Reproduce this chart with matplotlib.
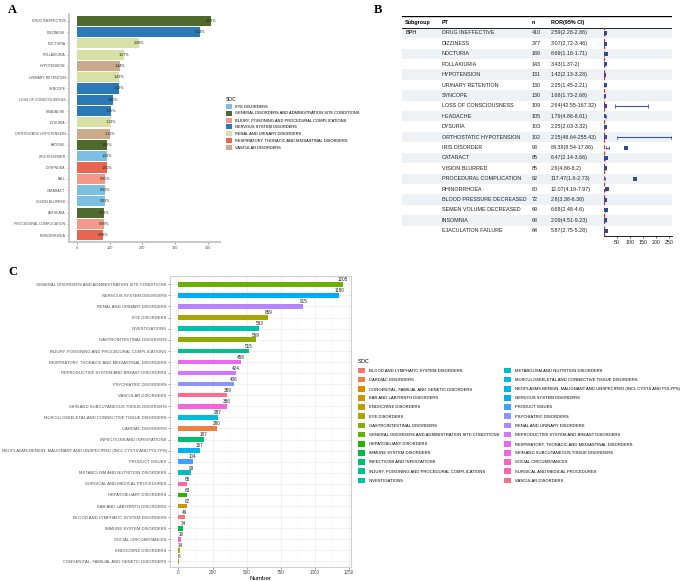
import numpy as np
import matplotlib
matplotlib.use("Agg")
import matplotlib.pyplot as plt
from matplotlib.patches import Patch

plt.rcParams['font.family'] = ['Liberation Sans', 'DejaVu Sans']

# ---------------- panel A data ----------------
a_pt = ["DRUG INEFFECTIVE", "DIZZINESS", "NOCTURIA", "POLLAKIURIA", "HYPOTENSION",
        "URINARY RETENTION", "SYNCOPE", "LOSS OF CONSCIOUSNESS", "HEADACHE", "DYSURIA",
        "ORTHOSTATIC HYPOTENSION", "FATIGUE", "IRIS DISORDER", "DYSPNOEA", "FALL",
        "CATARACT", "VISION BLURRED", "ASTHENIA", "PROCEDURAL COMPLICATION", "RHINORRHOEA"]
a_n = [410, 377, 189, 143, 131, 130, 130, 109, 105, 103, 102, 93, 93, 91, 86, 85, 85, 83, 82, 80]
a_pct = ["4.51%", "4.14%", "2.08%", "1.57%", "1.44%", "1.43%", "1.43%", "1.20%", "1.15%", "1.13%",
         "1.12%", "1.02%", "1.02%", "1.00%", "0.95%", "0.93%", "0.93%", "0.91%", "0.90%", "0.88%"]
a_soc = ["GEN", "NERV", "REN", "REN", "VASC", "REN", "NERV", "NERV", "NERV", "REN",
         "VASC", "GEN", "EYE", "RESP", "INJ", "EYE", "EYE", "GEN", "INJ", "RESP"]
a_soc_names = {"EYE": "EYE DISORDERS",
               "GEN": "GENERAL DISORDERS AND ADMINISTRATION SITE CONDITIONS",
               "INJ": "INJURY, POISONING AND PROCEDURAL COMPLICATIONS",
               "NERV": "NERVOUS SYSTEM DISORDERS",
               "REN": "RENAL AND URINARY DISORDERS",
               "RESP": "RESPIRATORY, THORACIC AND MEDIASTINAL DISORDERS",
               "VASC": "VASCULAR DISORDERS"}
a_cols = {"EYE": "#7dbfe0", "GEN": "#4f6a2c", "INJ": "#f59a8b", "NERV": "#2b79b6",
          "REN": "#d7e1a6", "RESP": "#e8664f", "VASC": "#c9aa8b"}

# ---------------- panel B data ----------------
b_pt = ["DRUG INEFFECTIVE", "DIZZINESS", "NOCTURIA", "POLLAKIURIA", "HYPOTENSION",
        "URINARY RETENTION", "SYNCOPE", "LOSS OF CONSCIOUSNESS", "HEADACHE", "DYSURIA",
        "ORTHOSTATIC HYPOTENSION", "IRIS DISORDER", "CATARACT", "VISION BLURRED",
        "PROCEDURAL COMPLICATION", "RHINORRHOEA", "BLOOD PRESSURE DECREASED",
        "SEMEN VOLUME DECREASED", "INSOMNIA", "EJACULATION FAILURE"]
b_n = [410, 377, 189, 143, 131, 130, 130, 109, 105, 103, 102, 93, 85, 85, 82, 80, 72, 69, 68, 64]
b_ror = [2.59, 3.07, 8.69, 3.43, 1.42, 2.25, 1.68, 2.64, 1.79, 2.25,
         2.15, 84.38, 6.47, 2.6, 117.47, 12.07, 2.8, 6.68, 2.09, 5.87]
b_lo = [2.28, 2.72, 1.18, 1.37, 2.13, 1.45, 1.73, 42.55, 4.86, 2.03,
        48.64, 8.54, 2.14, 4.86, 1.6, 4.19, 3.38, 2.48, 4.51, 2.75]
b_hi = [2.86, 3.46, 1.71, 2, 3.28, 2.21, 2.68, 167.32, 8.61, 3.32,
        255.43, 17.86, 3.66, 8.2, 2.73, 7.97, 6.38, 4.6, 9.23, 5.28]
b_ticks = [50, 100, 150, 200, 250]

# ---------------- panel C data ----------------
c_soc = ["GENERAL DISORDERS AND ADMINISTRATION SITE CONDITIONS", "NERVOUS SYSTEM DISORDERS",
         "RENAL AND URINARY DISORDERS", "EYE DISORDERS", "INVESTIGATIONS",
         "GASTROINTESTINAL DISORDERS", "INJURY, POISONING AND PROCEDURAL COMPLICATIONS",
         "RESPIRATORY, THORACIC AND MEDIASTINAL DISORDERS", "REPRODUCTIVE SYSTEM AND BREAST DISORDERS",
         "PSYCHIATRIC DISORDERS", "VASCULAR DISORDERS", "SKIN AND SUBCUTANEOUS TISSUE DISORDERS",
         "MUSCULOSKELETAL AND CONNECTIVE TISSUE DISORDERS", "CARDIAC DISORDERS",
         "INFECTIONS AND INFESTATIONS",
         "NEOPLASMS BENIGN, MALIGNANT AND UNSPECIFIED (INCL CYSTS AND POLYPS)",
         "PRODUCT ISSUES", "METABOLISM AND NUTRITION DISORDERS", "SURGICAL AND MEDICAL PROCEDURES",
         "HEPATOBILIARY DISORDERS", "EAR AND LABYRINTH DISORDERS",
         "BLOOD AND LYMPHATIC SYSTEM DISORDERS", "IMMUNE SYSTEM DISORDERS",
         "SOCIAL CIRCUMSTANCES", "ENDOCRINE DISORDERS", "CONGENITAL, FAMILIAL AND GENETIC DISORDERS"]
c_n = [1205, 1180, 915, 659, 593, 569, 515, 458, 424, 406, 359, 356, 287, 280,
       187, 157, 104, 93, 65, 63, 62, 46, 34, 19, 14, 6]
c_ticks = [0, 250, 500, 750, 1000, 1250]


def hue_pal(n, l=65, c=100):
    # ggplot2 default discrete palette (hcl)
    h = np.radians(np.linspace(15, 375, n + 1)[:-1])
    Xn, Yn, Zn = 95.047, 100.0, 108.883
    Y = Yn * ((l + 16) / 116) ** 3
    den = Xn + 15 * Yn + 3 * Zn
    u = c * np.cos(h) / (13 * l) + 4 * Xn / den
    v = c * np.sin(h) / (13 * l) + 9 * Yn / den
    X = 9 * Y * u / (4 * v)
    Z = -X / 3 - 5 * Y + 3 * Y / v
    X, Y, Z = X / 100, Y / 100, Z / 100
    R = 3.240479 * X - 1.537150 * Y - 0.498535 * Z
    G = -0.969256 * X + 1.875992 * Y + 0.041556 * Z
    B = 0.055648 * X - 0.204043 * Y + 1.057311 * Z
    out = []
    for rgb in zip(R, G, B):
        cc = []
        for t in rgb:
            t = 1.055 * t ** (1 / 2.4) - 0.055 if t > 0.00304 else 12.92 * t
            cc.append(min(max(t, 0), 1))
        out.append(tuple(cc))
    return out


W, H = 685, 581
fig = plt.figure(figsize=(W / 100, H / 100), dpi=100)


def rect(l, t, r, b):
    return [l / W, 1 - b / H, (r - l) / W, (b - t) / H]


grey = "#4d4d4d"

# ================= A =================
ax = fig.add_axes(rect(69, 14, 220, 242))
ya = np.arange(len(a_pt))
ax.barh(ya, a_n, height=0.9, color=[a_cols[s] for s in a_soc])
for i in range(len(a_pt)):
    ax.text(a_n[i], i, a_pct[i], ha="center", va="center", fontsize=2.7, color="#222222")
ax.set_yticks(ya)
ax.set_yticklabels(a_pt, fontsize=2.55, color=grey)
ax.set_ylim(len(a_pt) - 0.4, -0.6)
ax.set_xlim(-24, 437)
ax.set_xticks([0, 100, 200, 300, 400])
ax.tick_params(axis="x", labelsize=2.7, colors=grey, length=1.5, width=0.4, pad=1.5)
ax.tick_params(axis="y", length=1.5, width=0.4, pad=1, colors=grey)
for s in ["top", "right"]:
    ax.spines[s].set_visible(False)
for s in ["left", "bottom"]:
    ax.spines[s].set_color("#c8c8c8")
    ax.spines[s].set_linewidth(1.4)
fig.text(8 / W, 1 - 10 / H, "A", fontsize=9, fontweight="bold", family="Liberation Serif", va="center")

handles = [Patch(facecolor=a_cols[k], edgecolor="none", label=a_soc_names[k]) for k in a_cols]
fig.legend(handles=handles, loc="upper left", bbox_to_anchor=(226 / W, 1 - 97 / H),
           frameon=False, fontsize=2.85, title="SOC", title_fontsize=3.6,
           handlelength=1.6, handleheight=1.6, labelspacing=0.45, handletextpad=0.6,
           borderpad=0, borderaxespad=0, alignment="left")

# ================= B =================
nb = len(b_pt)
tb = fig.add_axes(rect(402, 16, 672, 236))
tb.set_xlim(402, 672)
tb.set_ylim(nb - 0.5, -1.63)
tb.axis("off")
for i in range(0, nb, 2):
    tb.axhspan(i - 0.5, i + 0.5, color="#eef2f5", lw=0)
tb.axhline(-1.63, color="black", lw=1.0)
tb.axhline(-0.5, color="black", lw=0.6)
fs_b = 3.9
colx = [405, 442, 532, 551]
for x, lab in zip(colx, ["Subgroup", "PT", "n", "ROR(95% CI)"]):
    tb.text(x, -1.0, lab, fontsize=fs_b, fontweight="bold", va="center")
tb.text(colx[0], 0, "BPH", fontsize=fs_b, va="center")
for i in range(nb):
    tb.text(colx[1], i, b_pt[i], fontsize=fs_b, va="center", color="#222222")
    tb.text(colx[2], i, str(b_n[i]), fontsize=fs_b, va="center", color="#222222")
    tb.text(colx[3], i, f"{b_ror[i]:g}({b_lo[i]:g}-{b_hi[i]:g})", fontsize=fs_b,
            va="center", color="#222222")

fb = fig.add_axes(rect(604, 28, 672, 236))
fb.patch.set_alpha(0)
yb = np.arange(nb)
fb.axvline(1, color="#e8261f", lw=0.9, ls=(0, (3, 2)))
fb.hlines(yb, b_lo, b_hi, color="#3a56a5", lw=0.8)
fb.vlines(b_lo, yb - 0.15, yb + 0.15, color="#3a56a5", lw=0.6)
fb.vlines(b_hi, yb - 0.15, yb + 0.15, color="#3a56a5", lw=0.6)
fb.plot(b_ror, yb, "s", color="#2f4b9c", ms=3.2, mew=0)
fb.set_xlim(0, 261)
fb.set_ylim(nb - 0.5, -0.5)
fb.set_yticks([])
fb.set_xticks(b_ticks)
fb.tick_params(axis="x", labelsize=3.8, length=1.5, width=0.5, pad=1.5, colors="#222222")
for s in ["top", "right", "left"]:
    fb.spines[s].set_visible(False)
fb.spines["bottom"].set_linewidth(0.6)
fig.text(374 / W, 1 - 10 / H, "B", fontsize=9, fontweight="bold", family="Liberation Serif", va="center")

# ================= C =================
all_soc = sorted(c_soc)
pal = dict(zip(all_soc, hue_pal(len(all_soc))))
axc = fig.add_axes(rect(170, 276, 351, 567))
yc = np.arange(len(c_soc))
axc.set_axisbelow(True)
axc.barh(yc, c_n, height=0.42, color=[pal[s] for s in c_soc])
for i in range(len(c_soc)):
    axc.text(c_n[i], i - 0.2, str(c_n[i]), ha="center", va="bottom", fontsize=3.3, color="#222222")
axc.set_yticks(yc)
axc.set_yticklabels(c_soc, fontsize=3.0, color=grey)
axc.set_ylim(len(c_soc) - 0.5, -0.75)
axc.set_xlim(-62, 1265)
axc.set_xticks(c_ticks)
axc.set_xticks([125, 375, 625, 875, 1125], minor=True)
axc.grid(True, which="major", color="#ebebeb", lw=0.5)
axc.grid(True, which="minor", axis="x", color="#f3f3f3", lw=0.3)
axc.tick_params(axis="x", which="major", labelsize=3.3, colors=grey, length=1.5, width=0.4, pad=1)
axc.tick_params(axis="x", which="minor", length=0)
axc.tick_params(axis="y", length=1.5, width=0.4, pad=1, colors=grey)
for s in axc.spines.values():
    s.set_color("#d0d0d0")
    s.set_linewidth(0.8)
axc.set_xlabel("Number", fontsize=4.5, labelpad=0.5)
fig.text(8 / W, 1 - 272 / H, "C", fontsize=9, fontweight="bold", family="Liberation Serif", va="center")

handles = [Patch(facecolor=pal[s], edgecolor="none", label=s) for s in all_soc]
fig.legend(handles=handles, loc="upper left", bbox_to_anchor=(358 / W, 1 - 359 / H),
           frameon=False, fontsize=3.0, title="SOC", title_fontsize=4.0, ncol=2,
           handlelength=1.7, handleheight=1.7, labelspacing=0.85, handletextpad=0.9,
           columnspacing=1.2, borderpad=0, borderaxespad=0, alignment="left")

fig.savefig("out.png", dpi=100)
